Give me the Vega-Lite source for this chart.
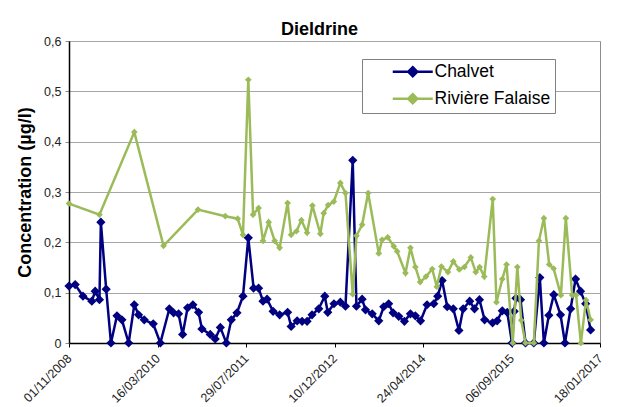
{
  "$schema": "https://vega.github.io/schema/vega-lite/v6.json",
  "width": 531,
  "height": 302,
  "autosize": {"type": "none"},
  "padding": {"left": 69, "top": 41, "right": 20, "bottom": 64},
  "background": "white",
  "title": {"text": "Dieldrine", "fontSize": 18, "fontWeight": "bold", "font": "Liberation Sans", "color": "black", "dx": -15, "offset": -4},
  "config": {
    "view": {"stroke": "#8c8c8c", "strokeWidth": 1},
    "font": "Liberation Sans",
    "legend": {
      "orient": "none", "legendX": 293, "legendY": 18, "title": null,
      "strokeColor": "#808080", "fillColor": "white", "padding": 4,
      "labelFontSize": 17.5, "labelFont": "Liberation Sans", "labelColor": "black",
      "symbolType": "M-4,0H4M0,-0.9L0.9,0L0,0.9L-0.9,0Z", "symbolSize": 100,
      "symbolStrokeWidth": 2.5, "symbolOffset": 38, "labelOffset": 13, "rowPadding": 7
    }
  },
  "datasets": {
    "rows": [
      {"d": "2008-11-01", "s": "Chalvet", "v": 0.113},
      {"d": "2008-12-06", "s": "Chalvet", "v": 0.116},
      {"d": "2009-01-19", "s": "Chalvet", "v": 0.093},
      {"d": "2009-03-10", "s": "Chalvet", "v": 0.083},
      {"d": "2009-03-29", "s": "Chalvet", "v": 0.103},
      {"d": "2009-04-22", "s": "Chalvet", "v": 0.086},
      {"d": "2009-04-30", "s": "Chalvet", "v": 0.240},
      {"d": "2009-05-30", "s": "Chalvet", "v": 0.107},
      {"d": "2009-06-26", "s": "Chalvet", "v": 0},
      {"d": "2009-07-30", "s": "Chalvet", "v": 0.054},
      {"d": "2009-08-27", "s": "Chalvet", "v": 0.046},
      {"d": "2009-10-04", "s": "Chalvet", "v": 0},
      {"d": "2009-11-05", "s": "Chalvet", "v": 0.076},
      {"d": "2009-11-29", "s": "Chalvet", "v": 0.056},
      {"d": "2009-12-31", "s": "Chalvet", "v": 0.046},
      {"d": "2010-02-20", "s": "Chalvet", "v": 0.038},
      {"d": "2010-04-01", "s": "Chalvet", "v": 0},
      {"d": "2010-05-22", "s": "Chalvet", "v": 0.068},
      {"d": "2010-06-15", "s": "Chalvet", "v": 0.060},
      {"d": "2010-07-13", "s": "Chalvet", "v": 0.058},
      {"d": "2010-08-05", "s": "Chalvet", "v": 0.017},
      {"d": "2010-09-02", "s": "Chalvet", "v": 0.070},
      {"d": "2010-10-02", "s": "Chalvet", "v": 0.076},
      {"d": "2010-11-03", "s": "Chalvet", "v": 0.061},
      {"d": "2010-11-22", "s": "Chalvet", "v": 0.028},
      {"d": "2011-01-08", "s": "Chalvet", "v": 0.017},
      {"d": "2011-02-05", "s": "Chalvet", "v": 0.008},
      {"d": "2011-03-06", "s": "Chalvet", "v": 0.031},
      {"d": "2011-04-09", "s": "Chalvet", "v": 0},
      {"d": "2011-05-07", "s": "Chalvet", "v": 0.046},
      {"d": "2011-06-08", "s": "Chalvet", "v": 0.060},
      {"d": "2011-07-12", "s": "Chalvet", "v": 0.093},
      {"d": "2011-08-11", "s": "Chalvet", "v": 0.209},
      {"d": "2011-09-10", "s": "Chalvet", "v": 0.109},
      {"d": "2011-10-08", "s": "Chalvet", "v": 0.109},
      {"d": "2011-11-02", "s": "Chalvet", "v": 0.083},
      {"d": "2011-11-25", "s": "Chalvet", "v": 0.087},
      {"d": "2011-12-29", "s": "Chalvet", "v": 0.063},
      {"d": "2012-02-04", "s": "Chalvet", "v": 0.056},
      {"d": "2012-03-20", "s": "Chalvet", "v": 0.061},
      {"d": "2012-04-09", "s": "Chalvet", "v": 0.033},
      {"d": "2012-05-13", "s": "Chalvet", "v": 0.044},
      {"d": "2012-06-10", "s": "Chalvet", "v": 0.043},
      {"d": "2012-07-08", "s": "Chalvet", "v": 0.043},
      {"d": "2012-08-05", "s": "Chalvet", "v": 0.056},
      {"d": "2012-09-12", "s": "Chalvet", "v": 0.068},
      {"d": "2012-10-16", "s": "Chalvet", "v": 0.093},
      {"d": "2012-11-02", "s": "Chalvet", "v": 0.061},
      {"d": "2012-12-07", "s": "Chalvet", "v": 0.078},
      {"d": "2013-01-12", "s": "Chalvet", "v": 0.081},
      {"d": "2013-02-10", "s": "Chalvet", "v": 0.073},
      {"d": "2013-03-23", "s": "Chalvet", "v": 0.363},
      {"d": "2013-04-13", "s": "Chalvet", "v": 0.073},
      {"d": "2013-05-15", "s": "Chalvet", "v": 0.087},
      {"d": "2013-06-03", "s": "Chalvet", "v": 0.066},
      {"d": "2013-07-11", "s": "Chalvet", "v": 0.058},
      {"d": "2013-08-17", "s": "Chalvet", "v": 0.044},
      {"d": "2013-09-14", "s": "Chalvet", "v": 0.072},
      {"d": "2013-10-12", "s": "Chalvet", "v": 0.078},
      {"d": "2013-11-06", "s": "Chalvet", "v": 0.060},
      {"d": "2013-12-08", "s": "Chalvet", "v": 0.053},
      {"d": "2014-01-09", "s": "Chalvet", "v": 0.043},
      {"d": "2014-02-12", "s": "Chalvet", "v": 0.058},
      {"d": "2014-03-12", "s": "Chalvet", "v": 0.054},
      {"d": "2014-04-10", "s": "Chalvet", "v": 0.044},
      {"d": "2014-05-17", "s": "Chalvet", "v": 0.076},
      {"d": "2014-06-24", "s": "Chalvet", "v": 0.078},
      {"d": "2014-07-16", "s": "Chalvet", "v": 0.093},
      {"d": "2014-08-10", "s": "Chalvet", "v": 0.124},
      {"d": "2014-09-08", "s": "Chalvet", "v": 0.072},
      {"d": "2014-10-12", "s": "Chalvet", "v": 0.068},
      {"d": "2014-11-13", "s": "Chalvet", "v": 0.025},
      {"d": "2014-12-07", "s": "Chalvet", "v": 0.068},
      {"d": "2015-01-13", "s": "Chalvet", "v": 0.083},
      {"d": "2015-02-09", "s": "Chalvet", "v": 0.068},
      {"d": "2015-03-09", "s": "Chalvet", "v": 0.086},
      {"d": "2015-04-07", "s": "Chalvet", "v": 0.046},
      {"d": "2015-05-22", "s": "Chalvet", "v": 0.040},
      {"d": "2015-06-17", "s": "Chalvet", "v": 0.044},
      {"d": "2015-07-16", "s": "Chalvet", "v": 0.064},
      {"d": "2015-08-13", "s": "Chalvet", "v": 0.061},
      {"d": "2015-09-09", "s": "Chalvet", "v": 0},
      {"d": "2015-09-21", "s": "Chalvet", "v": 0.063},
      {"d": "2015-10-01", "s": "Chalvet", "v": 0.089},
      {"d": "2015-10-27", "s": "Chalvet", "v": 0.086},
      {"d": "2015-11-24", "s": "Chalvet", "v": 0},
      {"d": "2016-01-10", "s": "Chalvet", "v": 0},
      {"d": "2016-02-13", "s": "Chalvet", "v": 0.130},
      {"d": "2016-03-07", "s": "Chalvet", "v": 0},
      {"d": "2016-04-04", "s": "Chalvet", "v": 0.055},
      {"d": "2016-05-02", "s": "Chalvet", "v": 0.096},
      {"d": "2016-06-09", "s": "Chalvet", "v": 0.056},
      {"d": "2016-07-04", "s": "Chalvet", "v": 0},
      {"d": "2016-08-05", "s": "Chalvet", "v": 0.068},
      {"d": "2016-09-02", "s": "Chalvet", "v": 0.127},
      {"d": "2016-09-30", "s": "Chalvet", "v": 0.103},
      {"d": "2016-10-29", "s": "Chalvet", "v": 0.078},
      {"d": "2016-11-26", "s": "Chalvet", "v": 0.026},
      {"d": "2008-11-01", "s": "Rivière Falaise", "v": 0.277},
      {"d": "2009-04-22", "s": "Rivière Falaise", "v": 0.255},
      {"d": "2009-11-05", "s": "Rivière Falaise", "v": 0.419},
      {"d": "2010-04-19", "s": "Rivière Falaise", "v": 0.193},
      {"d": "2010-10-31", "s": "Rivière Falaise", "v": 0.265},
      {"d": "2011-04-03", "s": "Rivière Falaise", "v": 0.252},
      {"d": "2011-06-12", "s": "Rivière Falaise", "v": 0.247},
      {"d": "2011-07-12", "s": "Rivière Falaise", "v": 0.215},
      {"d": "2011-08-11", "s": "Rivière Falaise", "v": 0.523},
      {"d": "2011-09-07", "s": "Rivière Falaise", "v": 0.255},
      {"d": "2011-10-08", "s": "Rivière Falaise", "v": 0.268},
      {"d": "2011-11-02", "s": "Rivière Falaise", "v": 0.203},
      {"d": "2011-12-04", "s": "Rivière Falaise", "v": 0.240},
      {"d": "2012-01-07", "s": "Rivière Falaise", "v": 0.203},
      {"d": "2012-02-04", "s": "Rivière Falaise", "v": 0.189},
      {"d": "2012-03-20", "s": "Rivière Falaise", "v": 0.278},
      {"d": "2012-04-09", "s": "Rivière Falaise", "v": 0.215},
      {"d": "2012-05-09", "s": "Rivière Falaise", "v": 0.222},
      {"d": "2012-06-06", "s": "Rivière Falaise", "v": 0.244},
      {"d": "2012-07-08", "s": "Rivière Falaise", "v": 0.219},
      {"d": "2012-08-07", "s": "Rivière Falaise", "v": 0.273},
      {"d": "2012-09-21", "s": "Rivière Falaise", "v": 0.217},
      {"d": "2012-10-10", "s": "Rivière Falaise", "v": 0.258},
      {"d": "2012-11-04", "s": "Rivière Falaise", "v": 0.274},
      {"d": "2012-12-06", "s": "Rivière Falaise", "v": 0.281},
      {"d": "2013-01-12", "s": "Rivière Falaise", "v": 0.318},
      {"d": "2013-02-10", "s": "Rivière Falaise", "v": 0.298},
      {"d": "2013-03-23", "s": "Rivière Falaise", "v": 0.097},
      {"d": "2013-04-13", "s": "Rivière Falaise", "v": 0.213},
      {"d": "2013-05-15", "s": "Rivière Falaise", "v": 0.235},
      {"d": "2013-06-18", "s": "Rivière Falaise", "v": 0.298},
      {"d": "2013-08-17", "s": "Rivière Falaise", "v": 0.178},
      {"d": "2013-09-05", "s": "Rivière Falaise", "v": 0.205},
      {"d": "2013-10-07", "s": "Rivière Falaise", "v": 0.210},
      {"d": "2013-11-10", "s": "Rivière Falaise", "v": 0.192},
      {"d": "2013-11-29", "s": "Rivière Falaise", "v": 0.182},
      {"d": "2014-01-15", "s": "Rivière Falaise", "v": 0.139},
      {"d": "2014-02-12", "s": "Rivière Falaise", "v": 0.189},
      {"d": "2014-03-12", "s": "Rivière Falaise", "v": 0.151},
      {"d": "2014-04-08", "s": "Rivière Falaise", "v": 0.121},
      {"d": "2014-05-11", "s": "Rivière Falaise", "v": 0.132},
      {"d": "2014-06-15", "s": "Rivière Falaise", "v": 0.147},
      {"d": "2014-07-11", "s": "Rivière Falaise", "v": 0.112},
      {"d": "2014-08-06", "s": "Rivière Falaise", "v": 0.152},
      {"d": "2014-09-12", "s": "Rivière Falaise", "v": 0.141},
      {"d": "2014-10-12", "s": "Rivière Falaise", "v": 0.162},
      {"d": "2014-11-15", "s": "Rivière Falaise", "v": 0.146},
      {"d": "2014-12-14", "s": "Rivière Falaise", "v": 0.151},
      {"d": "2015-01-19", "s": "Rivière Falaise", "v": 0.170},
      {"d": "2015-02-16", "s": "Rivière Falaise", "v": 0.141},
      {"d": "2015-03-10", "s": "Rivière Falaise", "v": 0.151},
      {"d": "2015-04-05", "s": "Rivière Falaise", "v": 0.132},
      {"d": "2015-05-23", "s": "Rivière Falaise", "v": 0.286},
      {"d": "2015-06-13", "s": "Rivière Falaise", "v": 0.081},
      {"d": "2015-07-16", "s": "Rivière Falaise", "v": 0.127},
      {"d": "2015-08-09", "s": "Rivière Falaise", "v": 0.156},
      {"d": "2015-09-13", "s": "Rivière Falaise", "v": 0},
      {"d": "2015-10-09", "s": "Rivière Falaise", "v": 0.151},
      {"d": "2015-10-31", "s": "Rivière Falaise", "v": 0.045},
      {"d": "2015-11-24", "s": "Rivière Falaise", "v": 0},
      {"d": "2016-01-10", "s": "Rivière Falaise", "v": 0},
      {"d": "2016-02-08", "s": "Rivière Falaise", "v": 0.203},
      {"d": "2016-03-07", "s": "Rivière Falaise", "v": 0.248},
      {"d": "2016-04-06", "s": "Rivière Falaise", "v": 0.156},
      {"d": "2016-05-01", "s": "Rivière Falaise", "v": 0.148},
      {"d": "2016-06-11", "s": "Rivière Falaise", "v": 0.095},
      {"d": "2016-07-09", "s": "Rivière Falaise", "v": 0.248},
      {"d": "2016-08-14", "s": "Rivière Falaise", "v": 0.095},
      {"d": "2016-09-05", "s": "Rivière Falaise", "v": 0.095},
      {"d": "2016-10-02", "s": "Rivière Falaise", "v": 0},
      {"d": "2016-10-31", "s": "Rivière Falaise", "v": 0.085},
      {"d": "2016-11-26", "s": "Rivière Falaise", "v": 0.046}
    ]
  },
  "data": {"name": "rows"},
  "encoding": {
    "x": {
      "field": "d", "type": "temporal",
      "scale": {"type": "utc", "domain": [{"year": 2008, "month": 11, "date": 1, "utc": true}, {"year": 2017, "month": 1, "date": 18, "utc": true}], "nice": false},
      "axis": {
        "title": null, "grid": false,
        "values": [
          {"year": 2008, "month": 11, "date": 1, "utc": true},
          {"year": 2010, "month": 3, "date": 16, "utc": true},
          {"year": 2011, "month": 7, "date": 29, "utc": true},
          {"year": 2012, "month": 12, "date": 10, "utc": true},
          {"year": 2014, "month": 4, "date": 24, "utc": true},
          {"year": 2015, "month": 9, "date": 6, "utc": true},
          {"year": 2017, "month": 1, "date": 18, "utc": true}
        ],
        "format": "%d/%m/%Y", "labelAngle": -45, "labelAlign": "right", "labelBaseline": "middle",
        "labelFontSize": 12.5, "labelColor": "#222222", "labelPadding": 9, "labelOverlap": false,
        "domainColor": "black", "domainWidth": 1.5, "tickColor": "black", "tickSize": 4, "labelFlush": false
      }
    },
    "y": {
      "field": "v", "type": "quantitative",
      "scale": {"domain": [0, 0.6], "nice": false, "zero": true},
      "axis": {
        "title": "Concentration (µg/l)", "titleFontSize": 18, "titleFontWeight": "bold", "titleColor": "black", "titlePadding": 9,
        "values": [0, 0.1, 0.2, 0.3, 0.4, 0.5, 0.6],
        "labelExpr": "datum.value == 0 ? '0' : replace(format(datum.value, '.1f'), '.', ',')",
        "labelFontSize": 12.5, "labelColor": "#222222", "labelPadding": 4,
        "grid": true, "gridColor": "#a6a6a6", "gridWidth": 1,
        "domainColor": "black", "domainWidth": 1.5, "tickColor": "#8c8c8c", "tickSize": 4
      }
    },
    "color": {
      "field": "s", "type": "nominal",
      "scale": {"domain": ["Chalvet", "Rivière Falaise"], "range": ["#000080", "#9BBB59"]},
      "legend": {
        "labelExpr": "datum.label + '\u00a0\u00a0\u00a0\u00a0\u00a0'",
        "encode": {"symbols": {"update": {"fill": {"scale": "color", "field": "value"}, "stroke": {"scale": "color", "field": "value"}, "opacity": {"value": 1}}}}
      }
    }
  },
  "layer": [
    {"transform": [{"filter": "datum.s == 'Chalvet'"}], "mark": {"type": "line", "strokeWidth": 2.5}},
    {"transform": [{"filter": "datum.s == 'Chalvet'"}, {"filter": "datum.d != '2008-11-01'"}], "mark": {"type": "point", "shape": "diamond", "filled": true, "size": 85, "opacity": 1}},
    {"transform": [{"filter": "datum.s == 'Rivière Falaise'"}], "mark": {"type": "line", "strokeWidth": 2.5}},
    {"transform": [{"filter": "datum.s == 'Rivière Falaise'"}, {"filter": "datum.d != '2008-11-01'"}], "mark": {"type": "point", "shape": "diamond", "filled": true, "size": 45, "opacity": 1}}
  ]
}
